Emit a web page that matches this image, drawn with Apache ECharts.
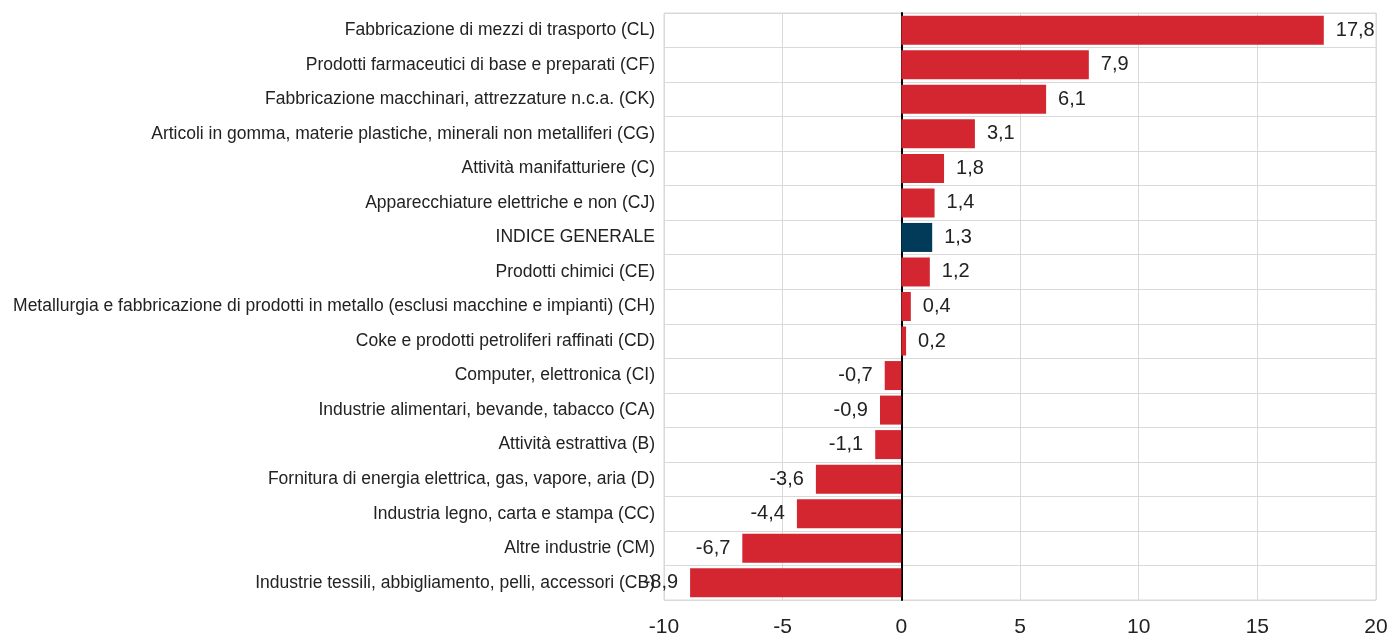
<!DOCTYPE html>
<html><head><meta charset="utf-8">
<script src="https://cdn.jsdelivr.net/npm/echarts@6/dist/echarts.min.js"></script>
<style>html,body{margin:0;padding:0;background:#fff}#c{width:1391px;height:639px}</style>
</head><body><div id="c"></div>
<script>
var categories = [
  "Fabbricazione di mezzi di trasporto (CL)",
  "Prodotti farmaceutici di base e preparati (CF)",
  "Fabbricazione macchinari, attrezzature n.c.a. (CK)",
  "Articoli in gomma, materie plastiche, minerali non metalliferi (CG)",
  "Attività manifatturiere (C)",
  "Apparecchiature elettriche e non (CJ)",
  "INDICE GENERALE",
  "Prodotti chimici (CE)",
  "Metallurgia e fabbricazione di prodotti in metallo (esclusi macchine e impianti) (CH)",
  "Coke e prodotti petroliferi raffinati (CD)",
  "Computer, elettronica (CI)",
  "Industrie alimentari, bevande, tabacco (CA)",
  "Attività estrattiva (B)",
  "Fornitura di energia elettrica, gas, vapore, aria (D)",
  "Industria legno, carta e stampa (CC)",
  "Altre industrie (CM)",
  "Industrie tessili, abbigliamento, pelli, accessori (CB)"
];
var values = [17.8, 7.9, 6.1, 3.1, 1.8, 1.4, 1.3, 1.2, 0.4, 0.2, -0.7, -0.9, -1.1, -3.6, -4.4, -6.7, -8.9];
var highlight = "INDICE GENERALE";

var FONT = '"Liberation Sans Narrow", "Liberation Sans", Arial, sans-serif';
var chart = echarts.init(document.getElementById('c'), null, {renderer: 'canvas'});
chart.setOption({
  animation: false,
  grid: {left: 664, right: 15, top: 13, bottom: 39, show: true, borderColor: '#d9d9d9', borderWidth: 1},
  xAxis: {
    type: 'value', min: -10, max: 20, interval: 5,
    axisLine: {show: false}, axisTick: {show: false},
    axisLabel: {fontFamily: FONT, fontSize: 21, color: '#222', margin: 17},
    splitLine: {lineStyle: {color: '#d9d9d9', width: 1}}
  },
  yAxis: {
    type: 'category', data: categories, inverse: true,
    axisLine: {show: true, onZero: true, lineStyle: {color: '#000', width: 2}},
    axisTick: {show: false},
    axisLabel: {fontFamily: FONT, fontSize: 17.5, color: '#222', margin: 9},
    splitLine: {show: true, lineStyle: {color: '#d9d9d9', width: 1}}
  },
  series: [{
    type: 'bar',
    barCategoryGap: '16%',
    data: values.map(function (v, i) {
      return {value: v, itemStyle: {color: categories[i] === highlight ? '#023a5a' : '#d32630'},
        label: {position: v >= 0 ? 'right' : 'left'}};
    }),
    label: {
      show: true, fontFamily: FONT, fontSize: 20, color: '#222', distance: 12,
      formatter: function (p) { return String(p.value).replace('.', ','); }
    }
  }]
});
</script></body></html>
